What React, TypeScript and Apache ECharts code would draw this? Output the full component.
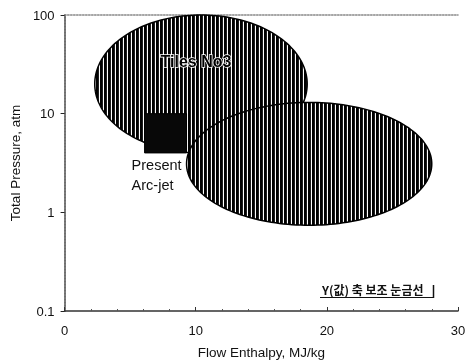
import React, { useEffect, useRef } from 'react';
import * as echarts from 'echarts';

// Axis ticks
const xTicks = [0, 10, 20, 30];
const yTicks = [0.1, 1, 10, 100];

// Operating regions (flow enthalpy in MJ/kg, total pressure in atm)
const regionNames = ['Tiles No3', 'Present\nArc-jet', ''];
const regionShapes = ['ellipse', 'rect', 'ellipse'];
const regionXMin = [2.3, 6.1, 9.3];
const regionXMax = [18.5, 9.3, 28.0];
const regionYMin = [4.0, 4.0, 0.74];
const regionYMax = [100, 10, 13];

// Vertical hatching used to fill the elliptical regions
const makeStripes = (): HTMLCanvasElement => {
  const c = document.createElement('canvas');
  c.width = 4;
  c.height = 4;
  const ctx = c.getContext('2d')!;
  ctx.fillStyle = '#ffffff';
  ctx.fillRect(0, 0, 4, 4);
  ctx.fillStyle = '#000000';
  ctx.fillRect(0, 0, 2, 4);
  ctx.fillStyle = '#1e1e1e';
  ctx.fillRect(2, 0, 1, 4);
  return c;
};

export default function App() {
  const ref = useRef<HTMLDivElement>(null);

  useEffect(() => {
    if (!ref.current) return;
    const chart = echarts.init(ref.current, null, { renderer: 'svg' });
    const stripes = makeStripes();
    const fontFamily = '"Liberation Sans", Arial, sans-serif';

    const data = regionNames.map((_, i) => [
      regionXMin[i],
      regionXMax[i],
      regionYMin[i],
      regionYMax[i],
    ]);

    const renderItem = (params: any, api: any) => {
      const i = params.dataIndex;
      const p0 = api.coord([api.value(0), api.value(3)]);
      const p1 = api.coord([api.value(1), api.value(2)]);
      const x0 = p0[0];
      const y0 = p0[1];
      const w = p1[0] - p0[0];
      const h = p1[1] - p0[1];
      const children: any[] = [];
      if (regionShapes[i] === 'ellipse') {
        const cx = x0 + w / 2;
        const cy = y0 + h / 2;
        const pts: number[][] = [];
        for (let k = 0; k < 180; k++) {
          const t = (k / 180) * Math.PI * 2;
          pts.push([cx + (w / 2) * Math.cos(t), cy + (h / 2) * Math.sin(t)]);
        }
        children.push({
          type: 'polygon',
          shape: { points: pts },
          style: {
            fill: { image: stripes, repeat: 'repeat' },
            stroke: '#000',
            lineWidth: 1.5,
          },
        });
        if (regionNames[i]) {
          children.push({
            type: 'text',
            x: cx - 5,
            y: y0 + h * 0.34,
            style: {
              text: regionNames[i],
              font: `bold 16px ${fontFamily}`,
              fill: '#000',
              stroke: '#fff',
              lineWidth: 1.5,
              align: 'center',
              verticalAlign: 'middle',
            },
          });
        }
      } else {
        children.push({
          type: 'rect',
          shape: { x: x0, y: y0, width: w, height: h },
          style: { fill: '#080808', stroke: '#000', lineWidth: 1 },
        });
        children.push({
          type: 'text',
          x: x0 - 13,
          y: y0 + h + 2,
          style: {
            text: regionNames[i],
            font: `14.5px ${fontFamily}`,
            lineHeight: 20,
            fill: '#111',
            align: 'left',
            verticalAlign: 'top',
          },
        });
      }
      return { type: 'group', children };
    };

    chart.setOption({
      animation: false,
      grid: { left: 63, right: 11, top: 15, bottom: 50 },
      xAxis: [
        {
          type: 'value',
          min: xTicks[0],
          max: xTicks[xTicks.length - 1],
          interval: 10,
          position: 'bottom',
          name: 'Flow Enthalpy, MJ/kg',
          nameLocation: 'middle',
          nameGap: 34,
          nameTextStyle: { fontFamily, fontSize: 13.5, color: '#111' },
          axisLine: { lineStyle: { color: '#333', width: 1.5 } },
          axisTick: { show: true, inside: true, length: 4, lineStyle: { color: '#333' } },
          minorTick: { show: true, splitNumber: 5, length: 2, lineStyle: { color: '#555' } },
          axisLabel: { fontFamily, fontSize: 13, color: '#111', margin: 13 },
          splitLine: { show: false },
        },
        {
          type: 'value',
          min: 0,
          max: 1,
          position: 'top',
          axisLine: { show: true, lineStyle: { color: '#888', type: 'dotted', width: 1.5 } },
          axisTick: { show: false },
          axisLabel: { show: false },
          splitLine: { show: false },
        },
      ],
      yAxis: [
        {
          type: 'log',
          logBase: 10,
          min: yTicks[0],
          max: yTicks[yTicks.length - 1],
          position: 'left',
          name: 'Total Pressure, atm',
          nameLocation: 'middle',
          nameGap: 39,
          nameTextStyle: { fontFamily, fontSize: 13.5, color: '#111' },
          axisLine: { show: true, lineStyle: { color: '#222', width: 1.5 } },
          axisTick: { show: true, length: 4, lineStyle: { color: '#222' } },
          axisLabel: {
            fontFamily,
            fontSize: 13,
            color: '#111',
            margin: 10,
            formatter: (v: number) => String(yTicks.find((t) => Math.abs(t - v) / t < 1e-6) ?? v),
          },
          splitLine: { show: false },
        },
        {
          type: 'value',
          min: 0,
          max: 1,
          position: 'right',
          axisLine: { show: true, lineStyle: { color: '#888', type: 'dotted', width: 1.5 } },
          axisTick: { show: false },
          axisLabel: { show: false },
          splitLine: { show: false },
        },
      ],
      series: [
        {
          type: 'custom',
          xAxisIndex: 0,
          yAxisIndex: 0,
          renderItem,
          encode: { x: [0, 1], y: [2, 3] },
          data,
          clip: false,
          silent: true,
        },
      ],
      graphic: [
        {
          type: 'text',
          left: 322,
          top: 283,
          style: {
            text: 'Y(값) 축 보조 눈금선',
            font: 'bold 12px "Noto Sans CJK KR", sans-serif',
            fill: '#111',
          },
        },
        {
          type: 'line',
          shape: { x1: 320, y1: 297.5, x2: 433, y2: 297.5 },
          style: { stroke: '#111', lineWidth: 1 },
        },
        {
          type: 'line',
          shape: { x1: 433.5, y1: 285, x2: 433.5, y2: 298 },
          style: { stroke: '#111', lineWidth: 1.5 },
        },
      ],
    });

    return () => chart.dispose();
  }, []);

  return (
    <div
      ref={ref}
      style={{ position: 'fixed', left: 0, top: 0, width: 469, height: 364 }}
    />
  );
}
